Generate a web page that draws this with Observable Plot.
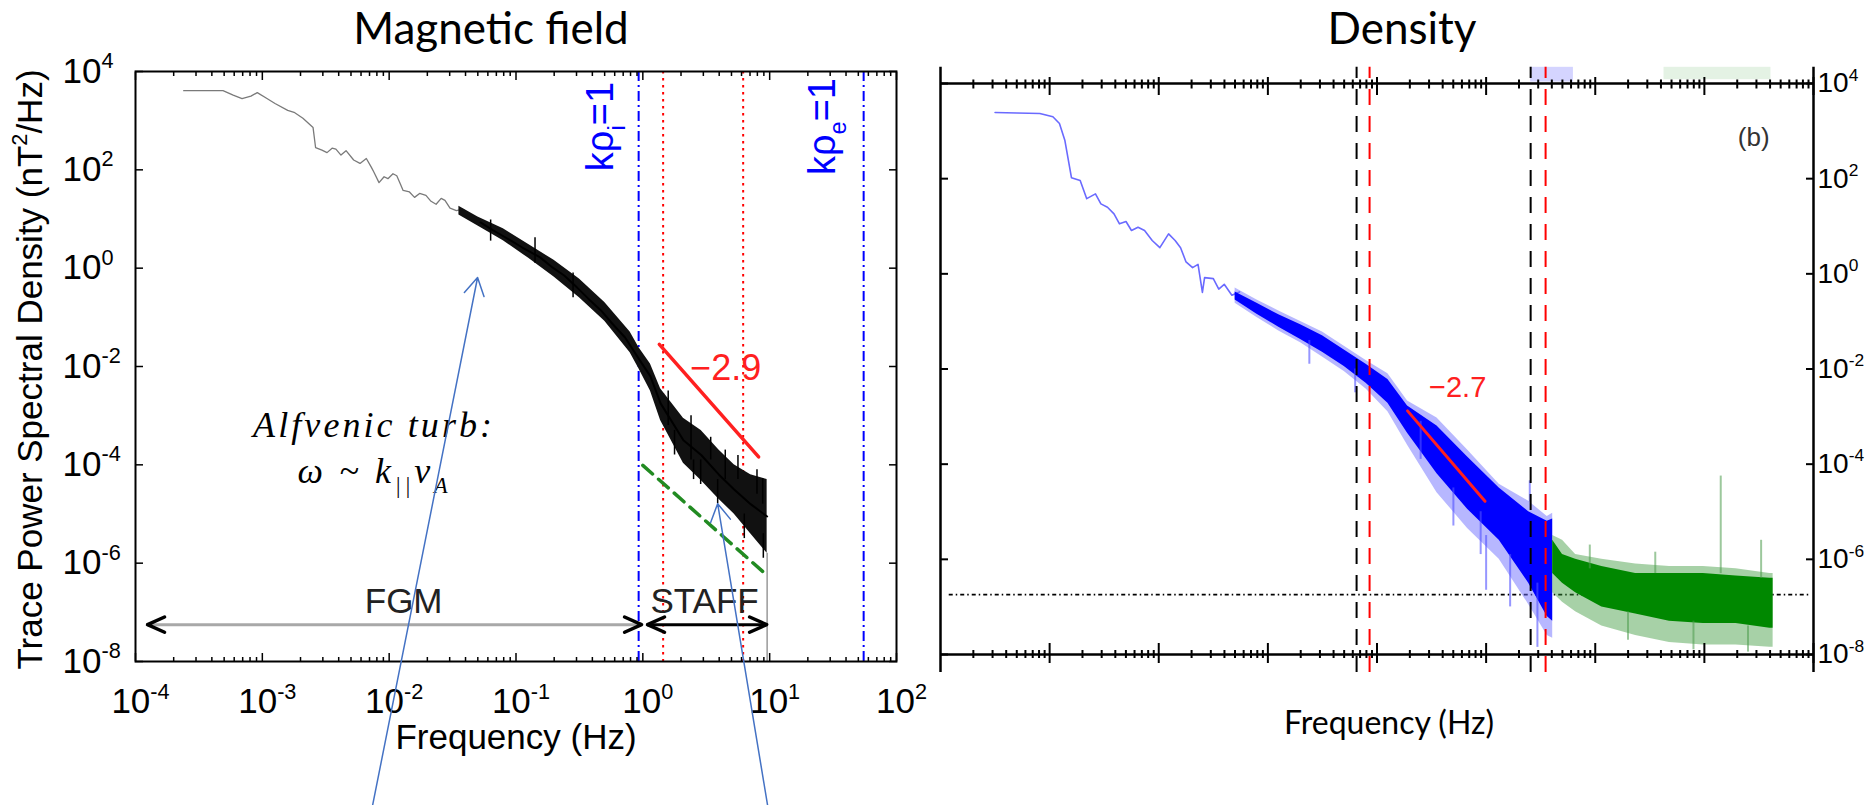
<!DOCTYPE html>
<html><head><meta charset="utf-8">
<script src="https://cdn.jsdelivr.net/npm/d3@7"></script>
<script src="https://cdn.jsdelivr.net/npm/@observablehq/plot@0.6"></script>
<style>
html,body{margin:0;padding:0;background:#fff;}
#root{position:relative;width:1872px;height:805px;overflow:hidden;background:#fff;}
#left{position:absolute;left:0;top:0;}
#right{position:absolute;left:920px;top:0;}
svg{overflow:visible}
</style></head><body><div id="root"><div id="left"></div><div id="right"></div></div>
<script>
const P = a => 10 ** a;

// ===== Magnetic field panel (values are [log10 f (Hz), log10 PSD (nT^2/Hz)]) =====
const magLow = [[-3.62,3.61],[-3.45,3.61],[-3.31,3.61],[-3.23,3.52],[-3.16,3.45],[-3.09,3.50],[-3.04,3.57],[-2.97,3.46],[-2.90,3.35],[-2.80,3.21],[-2.75,3.17],[-2.68,3.05],[-2.60,2.86],[-2.58,2.45],[-2.53,2.40],[-2.49,2.35],[-2.45,2.44],[-2.42,2.42],[-2.38,2.30],[-2.34,2.39],[-2.28,2.20],[-2.23,2.13],[-2.18,2.23],[-2.14,2.05],[-2.12,1.95],[-2.08,1.74],[-2.04,1.86],[-2.01,1.82],[-1.97,1.92],[-1.94,1.88],[-1.91,1.70],[-1.89,1.58],[-1.84,1.55],[-1.80,1.44],[-1.76,1.52],[-1.71,1.48],[-1.67,1.36],[-1.63,1.30],[-1.59,1.42],[-1.56,1.38],[-1.52,1.22],[-1.47,1.17],[-1.42,1.20],[-1.37,1.11],[-1.33,1.00],[-1.28,0.93]];
const magCore = [[-1.28,0.93],[-1.18,0.77],[-1.14,0.71],[-1.04,0.56],[-0.95,0.42],[-0.81,0.22],[-0.71,0.01],[-0.62,-0.15],[-0.52,-0.39],[-0.43,-0.62],[-0.33,-0.86],[-0.24,-1.13],[-0.14,-1.41],[-0.03,-1.85],[0.06,-2.2],[0.14,-2.75],[0.32,-3.5],[0.46,-3.8],[0.6,-4.2],[0.72,-4.5],[0.85,-4.8],[0.98,-5.05]];
const magBand = [[-1.45,1.08,1.26],[-1.3,0.86,1.04],[-1.1,0.56,0.8],[-0.9,0.2,0.48],[-0.7,-0.18,0.16],[-0.5,-0.6,-0.22],[-0.3,-1.08,-0.7],[-0.1,-1.72,-1.3],[-0.03,-2.05,-1.62],[0.06,-2.5,-1.95],[0.14,-3.1,-2.45],[0.32,-3.97,-3.05],[0.46,-4.32,-3.3],[0.6,-4.7,-3.7],[0.72,-5.0,-4.0],[0.85,-5.4,-4.2],[0.98,-5.8,-4.3]];
const magSpikes = [[0.535,-3.9,-3.44],[0.75,-4.3,-3.81],[0.945,-4.8,-4.28],[0.456,-4.4,-3.9],[0.59,-4.79,-4.3],[-0.55,-0.6,-0.1],[-0.85,0.1,0.62],[-1.2,0.55,0.98],[0.2,-3.2,-2.5],[0.38,-3.9,-3.0],[0.65,-4.3,-3.7],[0.9,-4.6,-4.1],[0.25,-3.8,-3.3],[0.4,-4.3,-3.9],[0.8,-5.5,-5.0],[0.95,-5.9,-5.4]];
const magEnd = [[0.98,-8,-5.8]];
const magFit = [[0.13,-1.55],[0.913,-3.84]];
const magFitLabel = [[0.653,-2.04,"−2.9"]];
const magNoise = [[0.0,-4.01],[0.98,-6.25]];
const magScaleLines = [-0.033, 1.741];        // k rho_i = 1, k rho_e = 1
const magRedLines = [0.16, 0.791];
const magScaleLabels = [[-0.33,2.88,"kρ_{i}=1"],[1.42,2.88,"kρ_{e}=1"]];
const instruments = [
  {name:"FGM", from:-3.905, to:-0.01, y:-7.25, lx:-1.886, ly:-6.78},
  {name:"STAFF", from:0.037, to:0.976, y:-7.25, lx:0.487, ly:-6.78}
];
const callouts = [[-2.131,-10.93,-1.303,-0.19],[0.984,-10.93,0.590,-4.79]];
const alfvenText = [[-2.131,-3.44,"Alfvenic turb:"],[-2.131,-4.36,"ω ~ k_{||}v_{A}"]];
const magYLabel = [[-4,-2,"Trace Power Spectral Density (nT^{2}/Hz)"]];
const magXTicks = [-4,-3,-2,-1,0,1,2];
const magYTicks = [-8,-6,-4,-2,0,2,4];

// ===== Density panel =====
const denLow = [[-3.50,3.39],[-3.30,3.38],[-3.09,3.37],[-2.97,3.30],[-2.91,3.16],[-2.86,2.80],[-2.80,2.02],[-2.72,1.96],[-2.66,1.58],[-2.58,1.68],[-2.53,1.47],[-2.47,1.40],[-2.41,1.26],[-2.36,1.05],[-2.30,1.10],[-2.25,0.91],[-2.19,0.98],[-2.13,0.91],[-2.06,0.70],[-1.99,0.55],[-1.91,0.84],[-1.85,0.70],[-1.80,0.55],[-1.75,0.25],[-1.69,0.13],[-1.64,0.20],[-1.60,-0.39],[-1.58,-0.08],[-1.50,-0.10],[-1.45,-0.32],[-1.40,-0.22],[-1.33,-0.45],[-1.26,-0.38]];
const denBandLight = [[-1.3,-0.62,-0.3],[-1.1,-0.92,-0.55],[-0.9,-1.2,-0.78],[-0.7,-1.45,-1.0],[-0.5,-1.75,-1.22],[-0.3,-2.05,-1.52],[-0.1,-2.42,-1.82],[0.1,-2.9,-2.1],[0.28,-3.6,-2.67],[0.55,-4.6,-3.03],[0.83,-5.35,-3.7],[1.12,-6.0,-4.42],[1.39,-6.95,-4.78],[1.56,-7.6,-5.1],[1.61,-7.66,-5.03]];
const denBandDark = [[-1.3,-0.55,-0.38],[-1.1,-0.85,-0.62],[-0.9,-1.12,-0.86],[-0.7,-1.38,-1.07],[-0.5,-1.65,-1.3],[-0.3,-1.95,-1.6],[-0.1,-2.3,-1.9],[0.1,-2.72,-2.22],[0.28,-3.35,-2.78],[0.55,-4.2,-3.2],[0.83,-4.95,-3.85],[1.12,-5.6,-4.5],[1.39,-6.5,-5.0],[1.56,-7.2,-5.2],[1.61,-7.3,-5.15]];
const denSpikes = [[1.0,-6.65,-5.5],[1.22,-7.0,-5.9],[1.47,-7.85,-6.5],[1.40,-4.8,-4.35],[0.7,-5.3,-4.5],[0.95,-5.9,-5.0],[-0.62,-1.9,-1.4],[-0.2,-2.5,-2.0],[0.4,-3.9,-3.1]];
const greenLight = [[1.61,-6.7,-5.5],[1.7,-6.9,-5.6],[1.82,-7.1,-5.9],[2.06,-7.4,-6.0],[2.37,-7.6,-6.1],[2.68,-7.75,-6.15],[2.99,-7.8,-6.15],[3.29,-7.8,-6.2],[3.6,-7.85,-6.3],[3.63,-7.85,-6.3]];
const greenDark = [[1.61,-6.3,-5.6],[1.7,-6.5,-5.9],[1.82,-6.7,-6.0],[2.06,-7.0,-6.15],[2.37,-7.15,-6.3],[2.68,-7.3,-6.3],[2.99,-7.35,-6.3],[3.29,-7.35,-6.35],[3.6,-7.45,-6.4],[3.63,-7.45,-6.4]];
const greenSpikes = [[3.15,-6.3,-4.25],[3.52,-6.4,-5.6],[2.55,-6.3,-5.85],[1.95,-6.2,-5.7],[2.3,-7.7,-7.1],[2.9,-7.9,-7.3],[3.4,-7.95,-7.4]];
const denFit = [[0.28,-2.88],[0.99,-4.78]];
const denFitLabel = [[0.739,-2.39,"−2.7"]];
const denBlackLines = [-0.187, 1.408];
const denRedLines = [-0.068, 1.545];
const noiseFloor = [{from:-3.92, to:3.97, y:-6.74}];
const denXTicks = [-3,-2,-1,0,1,2,3,4];
const denYTicks = [-8,-6,-4,-2,0,2,4];
const denExtent = [4.34, -8.38];
const panelLabel = [[3.452,2.865,"(b)"]];
const topFragments = [{x1:1.408,x2:1.80,y1:4.03,y2:4.34,c:"#a0a0ff"},{x1:2.63,x2:3.61,y1:4.08,y2:4.34,c:"#c4e2c4"}];

// text spacing, mimicking the original annotation font
const stretch = [["Alfvenic", 239, "spacing"], ["ω", 150, "spacing"]];

// helpers
const sup10 = d => `10^{${Math.round(Math.log10(d))}}`;
const minorOf = exps => exps.slice(0,-1).flatMap(e => d3.range(2,10).map(k => k * 10 ** e));
const pts = a => a.map(([f,v]) => ({x:P(f), y:P(v)}));
const band = a => a.map(([f,lo,hi]) => ({x:P(f), lo:P(lo), hi:P(hi)}));
const spikes = a => a.map(([f,lo,hi]) => ({x:P(f), lo:P(lo), hi:P(hi)}));
const chevron = {draw(ctx, l) { const w = l * 0.45; ctx.moveTo(-w, l); ctx.lineTo(0, 0); ctx.lineTo(w, l); }};
const font = "'Liberation Sans', Arial, sans-serif";
const calibri = "Lato, 'Open Sans', sans-serif";

const magMajor = magXTicks.map(P);
const magMinor = minorOf(magXTicks);
const magY = magYTicks.map(P);

const heads = instruments.flatMap(d => [{x:P(d.from), y:P(d.y), r:-90},{x:P(d.to), y:P(d.y), r:90}]);

const left = Plot.plot({
  width: 920, height: 805, marginLeft: 135, marginRight: 24, marginTop: 71, marginBottom: 144,
  style: {fontFamily: font, fontSize: "35px", color: "black", background: "transparent", overflow: "visible"},
  x: {type: "log", domain: [1e-4, 1e2], axis: null},
  y: {type: "log", domain: [1e-8, 1e4], axis: null},
  marks: [
    Plot.ruleX(magScaleLines.map(P), {stroke: "#0000ff", strokeWidth: 2, strokeDasharray: "10,4,2,4"}),
    Plot.ruleX(magRedLines.map(P), {stroke: "#ff0000", strokeWidth: 2, strokeDasharray: "2.5,4.5"}),
    Plot.line(pts(magLow), {x:"x", y:"y", stroke: "#7a7a7a", strokeWidth: 1.3}),
    Plot.areaY(band(magBand), {x:"x", y1:"lo", y2:"hi", fill: "#111", curve: "linear"}),
    Plot.line(pts(magCore), {x:"x", y:"y", stroke: "black", strokeWidth: 2}),
    Plot.ruleX(spikes(magSpikes), {x:"x", y1:"lo", y2:"hi", stroke:"black", strokeWidth:1.5}),
    Plot.ruleX(spikes(magEnd), {x:"x", y1:"lo", y2:"hi", stroke:"#999", strokeWidth:1.5}),
    Plot.line(pts(magNoise), {x:"x", y:"y", stroke: "#228b22", strokeWidth: 3.5, strokeDasharray: "13,8"}),
    Plot.line(pts(magFit), {x:"x", y:"y", stroke: "#ff2020", strokeWidth: 3.5}),
    Plot.text(magFitLabel, {x: d => P(d[0]), y: d => P(d[1]), text: d => d[2], fill: "#ff2020", fontSize: 36}),
    Plot.text(magScaleLabels, {x: d => P(d[0]), y: d => P(d[1]), text: d => d[2], fill: "#0000ff", fontSize: 38, rotate: -90, textAnchor: "middle"}),
    // instrument ranges
    Plot.ruleY(instruments, {y: d => P(d.y), x1: d => P(d.from), x2: d => P(d.to), stroke: d => d.name === "FGM" ? "#a8a8a8" : "black", strokeWidth: 3}),
    Plot.vector(heads, {x:"x", y:"y", rotate:"r", length: 17, anchor: "start", shape: chevron, stroke: "black", strokeWidth: 3.5}),
    Plot.text(instruments, {x: d => P(d.lx), y: d => P(d.ly), text: "name", fill: "#222", fontSize: 35}),
    // frame, ticks and labels
    Plot.frame({stroke: "black", strokeWidth: 2}),
    Plot.axisX({anchor: "bottom", ticks: magMajor, tickSize: -8, fill: "none", label: null, strokeWidth: 1.5}),
    Plot.axisX({anchor: "bottom", ticks: magMinor, tickSize: -4, fill: "none", label: null, strokeWidth: 1.5}),
    Plot.axisX({anchor: "top", ticks: magMajor, tickSize: -8, fill: "none", label: null, strokeWidth: 1.5}),
    Plot.axisX({anchor: "top", ticks: magMinor, tickSize: -4, fill: "none", label: null, strokeWidth: 1.5}),
    Plot.axisY({anchor: "left", ticks: magY, tickSize: -8, fill: "none", label: null, strokeWidth: 1.5}),
    Plot.axisY({anchor: "right", ticks: magY, tickSize: -8, fill: "none", label: null, strokeWidth: 1.5}),
    Plot.axisX({anchor: "bottom", ticks: magMajor, tickSize: 0, tickPadding: 27, tickFormat: sup10, fontSize: 35, label: null, dx: 5}),
    Plot.axisY({anchor: "left", ticks: magY, tickSize: 0, tickPadding: 73, textAnchor: "start", tickFormat: sup10, fontSize: 35, label: null}),
    Plot.text(["Frequency (Hz)"], {frameAnchor: "bottom", textAnchor: "middle", dy: 87, lineAnchor: "bottom", fontSize: 35}),
    Plot.text(magYLabel, {x: d => P(d[0]), y: d => P(d[1]), text: d => d[2], textAnchor: "middle", dx: -105, dy: 3, rotate: -90, fontSize: 35}),
    Plot.text(["Magnetic field"], {frameAnchor: "top", textAnchor: "middle", dx: -25, dy: -28, lineAnchor: "bottom", fontSize: 44, fontFamily: calibri}),
    // annotation
    Plot.text(alfvenText, {x: d => P(d[0]), y: d => P(d[1]), text: d => d[2], textAnchor: "middle", lineAnchor: "bottom", fontSize: 36, fontStyle: "italic", fontFamily: "'Liberation Serif', 'DejaVu Serif', serif"}),
    Plot.arrow(callouts, {x1: d => P(d[0]), y1: d => P(d[1]), x2: d => P(d[2]), y2: d => P(d[3]), stroke: "#4472c4", strokeWidth: 1.5, headLength: 20, headAngle: 60})
  ]
});

const denMajor = denXTicks.map(P);
const denMinor = minorOf([-4, ...denXTicks]);
const denY = denYTicks.map(P);

const right = Plot.plot({
  width: 952, height: 805, marginLeft: 20, marginRight: 59, marginTop: 83, marginBottom: 151,
  style: {fontFamily: font, fontSize: "28px", color: "black", background: "transparent", overflow: "visible"},
  x: {type: "log", domain: [1e-4, 1e4], axis: null},
  y: {type: "log", domain: [1e-8, 1e4], axis: null},
  marks: [
    Plot.rect(topFragments, {x1: d => P(d.x1), x2: d => P(d.x2), y1: d => P(d.y1), y2: d => P(d.y2), fill: "c", fillOpacity: 0.45}),
    Plot.ruleY(noiseFloor, {y: d => P(d.y), x1: d => P(d.from), x2: d => P(d.to), stroke: "black", strokeWidth: 1.8, strokeDasharray: "4,3,1.5,3"}),
    Plot.line(pts(denLow), {x:"x", y:"y", stroke: "#6a6aff", strokeWidth: 1.6}),
    Plot.areaY(band(denBandLight), {x:"x", y1:"lo", y2:"hi", fill: "#7070ff", fillOpacity: 0.5, curve: "linear"}),
    Plot.areaY(band(denBandDark), {x:"x", y1:"lo", y2:"hi", fill: "#0000ff", curve: "linear"}),
    Plot.ruleX(spikes(denSpikes), {x:"x", y1:"lo", y2:"hi", stroke:"#5050ff", strokeOpacity: 0.6, strokeWidth:2}),
    Plot.areaY(band(greenLight), {x:"x", y1:"lo", y2:"hi", fill: "#3c9a3c", fillOpacity: 0.45, curve: "linear"}),
    Plot.areaY(band(greenDark), {x:"x", y1:"lo", y2:"hi", fill: "#008800", curve: "linear"}),
    Plot.ruleX(spikes(greenSpikes), {x:"x", y1:"lo", y2:"hi", stroke:"#4a9a4a", strokeOpacity: 0.55, strokeWidth:2}),
    Plot.ruleX(denBlackLines.map(P), {y1: P(denExtent[1]), y2: P(denExtent[0]), stroke: "black", strokeWidth: 2, strokeDasharray: "16,11"}),
    Plot.ruleX(denRedLines.map(P), {y1: P(denExtent[1]), y2: P(denExtent[0]), stroke: "#ff0000", strokeWidth: 2, strokeDasharray: "16,11"}),
    Plot.line(pts(denFit), {x:"x", y:"y", stroke: "#ff2020", strokeWidth: 3}),
    Plot.text(denFitLabel, {x: d => P(d[0]), y: d => P(d[1]), text: d => d[2], fill: "#ff2020", fontSize: 29}),
    Plot.text(panelLabel, {x: d => P(d[0]), y: d => P(d[1]), text: d => d[2], fill: "#333", fontSize: 26}),
    // box lines
    Plot.ruleY([1e-8, 1e4], {x1: 1e-4, x2: 1e4, stroke: "black", strokeWidth: 2.5}),
    Plot.ruleX([1e-4, 1e4], {y1: P(denExtent[1]), y2: P(denExtent[0]), stroke: "black", strokeWidth: 2.5}),
    // crossing ticks
    Plot.axisX({anchor: "top", ticks: denMajor, tickSize: 7, fill: "none", label: null, strokeWidth: 2}),
    Plot.axisX({anchor: "top", ticks: denMajor, tickSize: -11, fill: "none", label: null, strokeWidth: 2}),
    Plot.axisX({anchor: "top", ticks: denMinor, tickSize: 4.5, fill: "none", label: null, strokeWidth: 2}),
    Plot.axisX({anchor: "top", ticks: denMinor, tickSize: -4.5, fill: "none", label: null, strokeWidth: 2}),
    Plot.axisX({anchor: "bottom", ticks: denMajor, tickSize: 9, fill: "none", label: null, strokeWidth: 2}),
    Plot.axisX({anchor: "bottom", ticks: denMajor, tickSize: -11, fill: "none", label: null, strokeWidth: 2}),
    Plot.axisX({anchor: "bottom", ticks: denMinor, tickSize: 4, fill: "none", label: null, strokeWidth: 2}),
    Plot.axisX({anchor: "bottom", ticks: denMinor, tickSize: -4, fill: "none", label: null, strokeWidth: 2}),
    Plot.axisY({anchor: "left", ticks: denY, tickSize: -8, fill: "none", label: null, strokeWidth: 2}),
    Plot.axisY({anchor: "right", ticks: denY, tickSize: -8, fill: "none", label: null, strokeWidth: 2}),
    Plot.axisY({anchor: "right", ticks: denY, tickSize: 0, tickPadding: 4, tickFormat: sup10, fontSize: 28, label: null}),
    Plot.text(["Frequency (Hz)"], {frameAnchor: "bottom", textAnchor: "middle", dx: 12, dy: 79, lineAnchor: "bottom", fontSize: 32, fontFamily: calibri}),
    Plot.text(["Density"], {frameAnchor: "top", textAnchor: "middle", dx: 25, dy: -40, lineAnchor: "bottom", fontSize: 44, fontFamily: calibri})
  ]
});

document.getElementById("left").appendChild(left);
document.getElementById("right").appendChild(right);

// turn ^{..} and _{..} into real superscript / subscript tspans
function rich(root) {
  d3.select(root).selectAll("text").each(function() {
    const s = this.textContent;
    const st = stretch.find(([p]) => s.startsWith(p));
    if (/[\^_]\{/.test(s)) {
      const fs = parseFloat(getComputedStyle(this).fontSize) || 30;
      const parts = [];
      const re = /([\^_])\{([^}]*)\}/g;
      let last = 0, m;
      while ((m = re.exec(s))) {
        if (m.index > last) parts.push({t: s.slice(last, m.index), k: ""});
        parts.push({t: m[2], k: m[1]});
        last = re.lastIndex;
      }
      if (last < s.length) parts.push({t: s.slice(last), k: ""});
      const el = d3.select(this);
      el.text(null);
      let cur = 0;
      for (const p of parts) {
        const target = p.k === "^" ? -0.42 * fs : p.k === "_" ? 0.3 * fs : 0;
        const ts = el.append("tspan").text(p.t).attr("dy", target - cur);
        if (p.k) ts.attr("font-size", 0.62 * fs);
        cur = target;
      }
    }
    if (st) d3.select(this).attr("textLength", st[1]).attr("lengthAdjust", st[2]);
  });
}
rich(left);
rich(right);
</script>
</body></html>
